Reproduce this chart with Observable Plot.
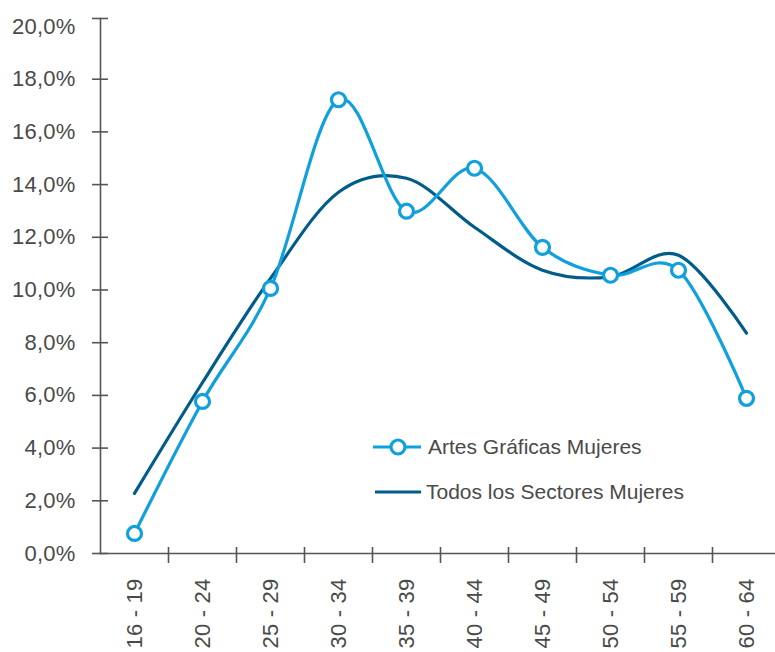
<!DOCTYPE html>
<html>
<head>
<meta charset="utf-8">
<script src="https://cdn.jsdelivr.net/npm/d3@7"></script>
<script src="https://cdn.jsdelivr.net/npm/@observablehq/plot@0.6"></script>
<style>
  body { margin: 0; background: #fff; }
  #wrap { position: relative; width: 775px; height: 652px; overflow: hidden; font-family: "Liberation Sans", Arial, sans-serif; }
  #wrap svg text { font-size: 22px; letter-spacing: 0.2px; }
  .leg { position: absolute; left: 373px; font-size: 21px; color: #4a4a4a; display: flex; align-items: center; white-space: nowrap; }
  .leg svg { display: block; }
</style>
</head>
<body>
<div id="wrap"></div>
<script>
const ageGroups = ["16 - 19", "20 - 24", "25 - 29", "30 - 34", "35 - 39", "40 - 44", "45 - 49", "50 - 54", "55 - 59", "60 - 64"];
const artesGraficas = [0.76, 5.77, 10.06, 17.22, 12.99, 14.62, 11.62, 10.56, 10.75, 5.89];
const todosSectores = [2.28, 6.49, 10.44, 13.71, 14.24, 12.38, 10.75, 10.5, 11.32, 8.36];
const yTicks = [0, 2, 4, 6, 8, 10, 12, 14, 16, 18, 20];
const seriesNames = ["Artes Gráficas Mujeres", "Todos los Sectores Mujeres"];
const colors = ["#0fa0dd", "#005c8a"];

const dataA = ageGroups.map((a, i) => ({age: a, value: artesGraficas[i]}));
const dataT = ageGroups.map((a, i) => ({age: a, value: todosSectores[i]}));
const fmt = d => d.toFixed(1).replace(".", ",") + "%";
const axisColor = "#555";
const textColor = "#4a4a4a";

const chart = Plot.plot({
  width: 775,
  height: 652,
  marginLeft: 100,
  marginRight: 0,
  marginTop: 18,
  marginBottom: 99,
  style: {fontFamily: "'Liberation Sans', Arial, sans-serif", fontSize: "22px", color: textColor, background: "#fff"},
  x: {type: "band", domain: ageGroups, range: [100, 780], padding: 0, label: null},
  y: {domain: [0, 20], range: [553, 26], label: null},
  marks: [
    Plot.frame({anchor: "left", stroke: axisColor, strokeWidth: 1.6}),
    Plot.frame({anchor: "bottom", stroke: axisColor, strokeWidth: 1.6}),
    Plot.axisY({ticks: yTicks.slice(0, -1), text: null, tickSize: 16, dx: 8, stroke: axisColor, strokeWidth: 1.6, label: null}),
    Plot.axisY({ticks: yTicks.slice(-1), text: null, tickSize: 16, dx: 8, dy: -8, stroke: axisColor, strokeWidth: 1.6, label: null}),
    Plot.axisY({ticks: yTicks, tickSize: 0, tickPadding: 25, tickFormat: fmt, fill: textColor, fontSize: 22, label: null}),
    Plot.axisX({ticks: ageGroups.slice(1), text: null, tickSize: 16, dx: -34, dy: -6, stroke: axisColor, strokeWidth: 1.6, label: null}),
    Plot.axisX({ticks: ageGroups, tickSize: 0, tickPadding: 25, tickRotate: -90, fill: textColor, fontSize: 22, label: null}),
    Plot.line(dataT, {x: "age", y: "value", curve: "cardinal", stroke: colors[1], strokeWidth: 3.2}),
    Plot.line(dataA, {x: "age", y: "value", curve: "cardinal", stroke: colors[0], strokeWidth: 3.2}),
    Plot.dot(dataA, {x: "age", y: "value", r: 7, fill: "white", stroke: colors[0], strokeWidth: 3.2})
  ]
});

const wrap = document.getElementById("wrap");
wrap.appendChild(chart);

// legend
const leg1 = document.createElement("div");
leg1.className = "leg";
leg1.style.top = "434px";
leg1.innerHTML = `<svg width="55" height="26"><line x1="0" y1="13" x2="48" y2="13" stroke="${colors[0]}" stroke-width="3.2"/><circle cx="25" cy="13" r="7" fill="white" stroke="${colors[0]}" stroke-width="3.2"/></svg><span>${seriesNames[0]}</span>`;
const leg2 = document.createElement("div");
leg2.className = "leg";
leg2.style.top = "479px";
leg2.innerHTML = `<svg width="53" height="26"><line x1="2" y1="13" x2="48" y2="13" stroke="${colors[1]}" stroke-width="3.2"/></svg><span>${seriesNames[1]}</span>`;
wrap.appendChild(leg1);
wrap.appendChild(leg2);
</script>
</body>
</html>
